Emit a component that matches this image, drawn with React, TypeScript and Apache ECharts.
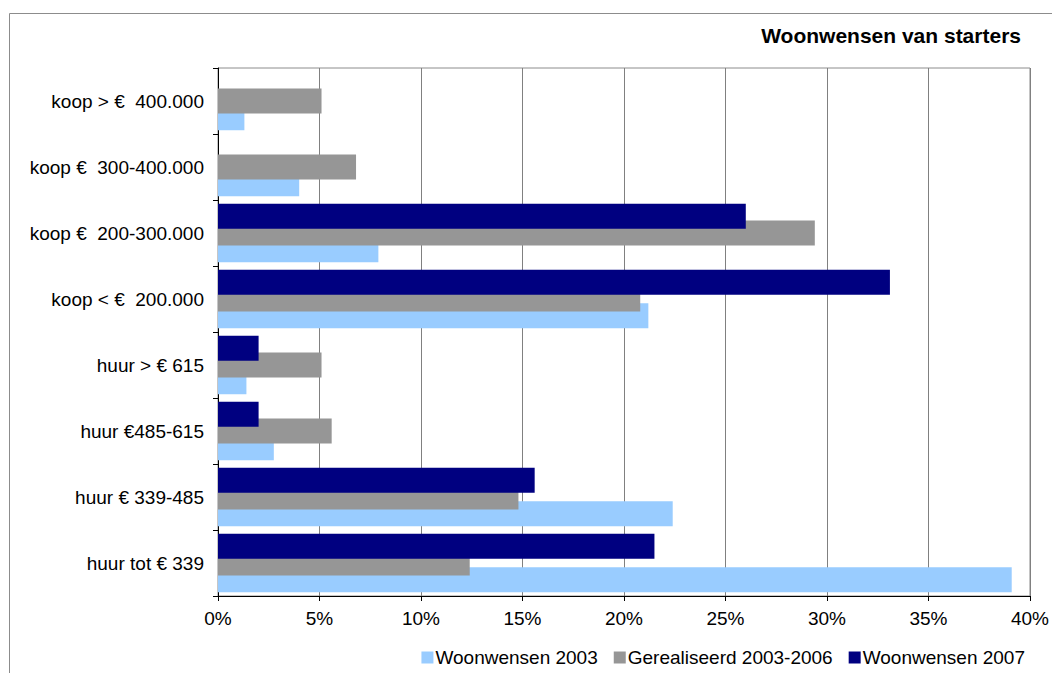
import React, { useEffect, useRef } from "react";
import * as echarts from "echarts";

const categories = [
  "huur tot € 339",
  "huur € 339-485",
  "huur €485-615",
  "huur > € 615",
  "koop < €  200.000",
  "koop €  200-300.000",
  "koop €  300-400.000",
  "koop > €  400.000",
];
const woonwensen2003 = [39.1, 22.4, 2.75, 1.4, 21.2, 7.9, 4.0, 1.3];
const gerealiseerd = [12.4, 14.8, 5.6, 5.1, 20.8, 29.4, 6.8, 5.1];
const woonwensen2007 = [21.5, 15.6, 2.0, 2.0, 33.1, 26.0, null, null];
const seriesNames = ["Woonwensen 2003", "Gerealiseerd 2003-2006", "Woonwensen 2007"];
const colors = ["#99CCFF", "#969696", "#000080"];
const xTicks = { min: 0, max: 40, interval: 5 };

export default function App() {
  const ref = useRef<HTMLDivElement>(null);
  useEffect(() => {
    const chart = echarts.init(ref.current!, null, { renderer: "svg" });
    const font = "'Liberation Sans', Arial, sans-serif";
    const data = [woonwensen2003, gerealiseerd, woonwensen2007];
    // ECharts places the first series at the top for horizontal bars, so reverse order
    const order = [2, 1, 0];
    chart.setOption({
      animation: false,
      textStyle: { fontFamily: font },
      title: {
        text: "Woonwensen van starters",
        right: 26,
        top: 20,
        textStyle: { fontSize: 21, fontWeight: "bold", color: "#000", fontFamily: font },
      },
      legend: {
        right: 22,
        bottom: 1,
        itemWidth: 12,
        itemHeight: 12,
        itemGap: 16,
        icon: "rect",
        textStyle: { fontSize: 19, color: "#000", fontFamily: font, padding: [0, 0, 0, -3] },
        data: seriesNames,
      },
      grid: {
        left: 218,
        right: 20,
        top: 68,
        bottom: 77,
        show: true,
        borderColor: "#8c8c8c",
        borderWidth: 1,
        backgroundColor: "transparent",
      },
      xAxis: {
        type: "value",
        min: xTicks.min,
        max: xTicks.max,
        interval: xTicks.interval,
        axisLine: { show: true, lineStyle: { color: "#000", width: 1 } },
        axisTick: { show: true, length: 5, lineStyle: { color: "#000" } },
        axisLabel: { formatter: "{value}%", fontSize: 19, color: "#000", margin: 13, fontFamily: font },
        splitLine: { show: true, lineStyle: { color: "#808080", width: 1 } },
      },
      yAxis: {
        type: "category",
        data: categories,
        axisLine: { show: true, lineStyle: { color: "#000", width: 1 } },
        axisTick: { show: true, length: 5, lineStyle: { color: "#000" } },
        axisLabel: { fontSize: 19, color: "#000", margin: 14, fontFamily: font },
        splitLine: { show: false },
      },
      graphic: [
        {
          type: "polyline",
          shape: { points: [[9.5, 680], [9.5, 13.5], [1060, 13.5]] },
          style: { stroke: "#8c8c8c", fill: "none", lineWidth: 1 },
          silent: true,
        },
      ],
      series: order.map((i) => ({
        name: seriesNames[i],
        type: "bar",
        data: data[i],
        barWidth: 25,
        barGap: "-33%",
        itemStyle: { color: colors[i] },
        z: 2 + i,
      })),
    });
    return () => chart.dispose();
  }, []);
  return (
    <div
      ref={ref}
      style={{ position: "fixed", left: 0, top: 0, width: 1052, height: 673, background: "#fff" }}
    />
  );
}
